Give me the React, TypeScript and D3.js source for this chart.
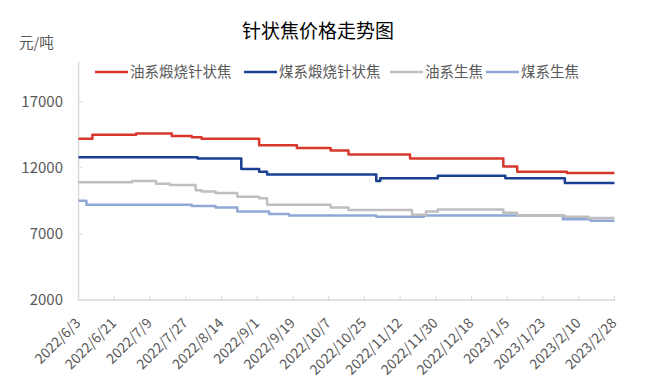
import React from "react";
import * as d3 from "d3";

const title = "针状焦价格走势图";
const unitLabel = "元/吨";
const seriesNames = ["油系煅烧针状焦", "煤系煅烧针状焦", "油系生焦", "煤系生焦"];
const seriesColors = ["#D8372C", "#1B3F91", "#BFBFBF", "#8FA8D6"];

const oilNeedleDates = ["2022-06-03", "2022-06-10", "2022-07-02", "2022-07-20", "2022-07-30", "2022-08-04", "2022-09-02", "2022-09-21", "2022-10-08", "2022-10-17", "2022-11-17", "2023-01-03", "2023-01-10", "2023-02-04", "2023-02-28"];
const oilNeedleValues = [14200, 14500, 14600, 14400, 14300, 14200, 13700, 13500, 13300, 13000, 12700, 12100, 11700, 11600, 11600];

const coalNeedleDates = ["2022-06-03", "2022-08-02", "2022-08-24", "2022-09-02", "2022-09-06", "2022-10-31", "2022-11-02", "2022-12-01", "2023-01-04", "2023-02-03", "2023-02-28"];
const coalNeedleValues = [12800, 12700, 11900, 11700, 11500, 11000, 11200, 11400, 11200, 10850, 10850];

const oilGreenDates = ["2022-06-03", "2022-06-30", "2022-07-12", "2022-07-19", "2022-08-01", "2022-08-04", "2022-08-11", "2022-08-22", "2022-09-02", "2022-09-06", "2022-10-08", "2022-10-17", "2022-11-18", "2022-11-25", "2022-12-01", "2023-01-03", "2023-01-10", "2023-02-03", "2023-02-15", "2023-02-28"];
const oilGreenValues = [10900, 11000, 10800, 10700, 10300, 10200, 10100, 9800, 9700, 9200, 9000, 8800, 8450, 8700, 8850, 8600, 8400, 8300, 8200, 8200];

const coalGreenDates = ["2022-06-03", "2022-06-07", "2022-07-30", "2022-08-11", "2022-08-22", "2022-09-07", "2022-09-17", "2022-10-31", "2022-11-24", "2023-02-02", "2023-02-16", "2023-02-28"];
const coalGreenValues = [9500, 9200, 9100, 9000, 8700, 8500, 8400, 8300, 8400, 8100, 8000, 8000];

const xTickLabels = ["2022/6/3", "2022/6/21", "2022/7/9", "2022/7/27", "2022/8/14", "2022/9/1", "2022/9/19", "2022/10/7", "2022/10/25", "2022/11/12", "2022/11/30", "2022/12/18", "2023/1/5", "2023/1/23", "2023/2/10", "2023/2/28"];
const yTicks = [2000, 7000, 12000, 17000];
const yDomain = [2000, 20000];

const W = 663;
const H = 388;
const plot = { left: 78.5, right: 614.5, top: 62, bottom: 300 };
const font = "'Noto Sans CJK SC', 'Noto Sans', sans-serif";
const textColor = "#595959";

const parse = d3.timeParse("%Y-%m-%d");
const parseLabel = d3.timeParse("%Y/%m/%d");

export default function App() {
  const x = d3
    .scaleTime()
    .domain([parse("2022-06-03")!, parse("2023-02-28")!])
    .range([plot.left, plot.right]);
  const y = d3.scaleLinear().domain(yDomain).range([plot.bottom, plot.top]);

  const series = [
    { dates: oilNeedleDates, values: oilNeedleValues },
    { dates: coalNeedleDates, values: coalNeedleValues },
    { dates: oilGreenDates, values: oilGreenValues },
    { dates: coalGreenDates, values: coalGreenValues },
  ];

  const line = d3
    .line<[Date, number]>()
    .x((d) => x(d[0]))
    .y((d) => y(d[1]))
    .curve(d3.curveStepAfter);

  const legendX = [97, 246, 392, 488];
  const drawOrder = [3, 2, 1, 0];

  return (
    <svg
      width={W}
      height={H}
      style={{ position: "absolute", left: 0, top: 0, background: "#fff" }}
      fontFamily={font}
    >
      <rect x={0} y={0} width={W} height={H} fill="#fff" />
      <text x={318} y={38} textAnchor="middle" fontSize={19} fill="#000">
        {title}
      </text>
      <text x={19} y={48} fontSize={14.5} fill={textColor}>
        {unitLabel}
      </text>

      {seriesNames.map((name, i) => (
        <g key={name} transform={`translate(${legendX[i]},72)`}>
          <line x1={-2} x2={31} y1={0} y2={0} stroke={seriesColors[i]} strokeWidth={2.5} />
          <text x={33} y={5} fontSize={14.5} fill={textColor}>
            {name}
          </text>
        </g>
      ))}

      {/* axes */}
      <line x1={plot.left} x2={plot.left} y1={plot.top} y2={plot.bottom} stroke="#d9d9d9" strokeWidth={1.5} />
      <line x1={plot.left} x2={plot.right + 1} y1={plot.bottom} y2={plot.bottom} stroke="#d9d9d9" strokeWidth={1.5} />
      {yTicks.map((t) => (
        <g key={t}>
          <line x1={plot.left} x2={plot.left + 4} y1={y(t)} y2={y(t)} stroke="#d9d9d9" strokeWidth={1} />
          <text x={63} y={y(t) + 5} textAnchor="end" fontSize={15} fill={textColor}>
            {t}
          </text>
        </g>
      ))}
      {xTickLabels.map((lab) => {
        const xp = x(parseLabel(lab)!);
        return (
          <g key={lab}>
            <line x1={xp} x2={xp} y1={plot.bottom} y2={plot.bottom - 4} stroke="#d9d9d9" strokeWidth={1} />
            <text
              transform={`translate(${xp + 3},${plot.bottom + 24}) rotate(-45)`}
              textAnchor="end"
              fontSize={14}
              fill={textColor}
            >
              {lab}
            </text>
          </g>
        );
      })}

      {drawOrder.map((i) => {
        const s = series[i];
        const pts: [Date, number][] = s.dates.map((d, k) => [parse(d)!, s.values[k]]);
        return (
          <path
            key={i}
            d={line(pts) || ""}
            fill="none"
            stroke={seriesColors[i]}
            strokeWidth={2.5}
            strokeLinejoin="round"
          />
        );
      })}
    </svg>
  );
}
